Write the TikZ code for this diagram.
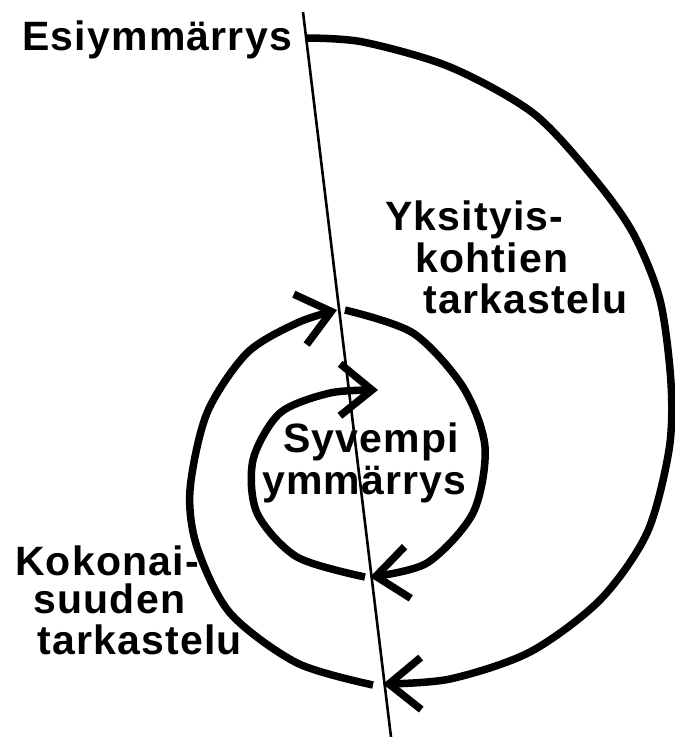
\documentclass[tikz,border=0pt]{standalone}
\usepackage{fontspec}
\setmainfont{Liberation Sans}[LetterSpace=3]
\usetikzlibrary{arrows.meta}
\begin{document}
\begin{tikzpicture}[x=1pt, y=-1pt,
    spiral/.style={line width=7.5pt, line join=round},
    barb/.style={-{Straight Barb[length=32pt, width=52pt]}},
    axis/.style={line width=2.6pt},
    lbl/.style={anchor=base west, inner sep=0pt, font=\fontsize{41}{41}\selectfont\bfseries}]
\useasboundingbox (0,0) rectangle (675,737);
% the thin axis through the spiral
\coordinate (top) at (303,12);
\coordinate (bot) at (391,737);
\draw[axis] (top) -- (bot);
% crossings of the spiral with the axis
\coordinate (s0) at (306,38);
\coordinate (s1) at (383,684);
\coordinate (s2) at (337,310);
\coordinate (s3) at (370,577);
\coordinate (s4) at (378,390);
% outer right half
\draw[spiral, barb] plot[smooth] coordinates {(s0) (363,42) (450,67) (533,113) (593,177)
    (633,233) (660,300) (671,383) (669,450) (647,533) (600,600) (530,652) (450,679) (s1)};
% left half, whole
\draw[spiral, barb] plot[smooth] coordinates {(373,685) (297,663) (230,613) (197,547)
    (190,490) (207,413) (247,353) (297,323) (s2)};
% right half, parts
\draw[spiral, barb] plot[smooth] coordinates {(345,310) (413,333) (463,387) (485,447)
    (473,513) (427,563) (s3)};
% inner left half
\draw[spiral, barb] plot[smooth] coordinates {(365,577) (297,557) (257,513) (253,460)
    (280,413) (330,393) (s4)};
% labels
\node[lbl] (esi) at (22,50) {Esiymmärrys};
\node[lbl] (yks1) at (385,230) {Yksityis-};
\node[lbl] (yks2) at (415,272) {kohtien};
\node[lbl] (yks3) at (423,313) {tarkastelu};
\node[lbl] (syv1) at (283,452) {Syvempi};
\node[lbl] (syv2) at (262,494) {ymmärrys};
\node[lbl] (kok1) at (15,575) {Kokonai-};
\node[lbl] (kok2) at (33,613) {suuden};
\node[lbl] (kok3) at (37,654) {tarkastelu};
\end{tikzpicture}
\end{document}
